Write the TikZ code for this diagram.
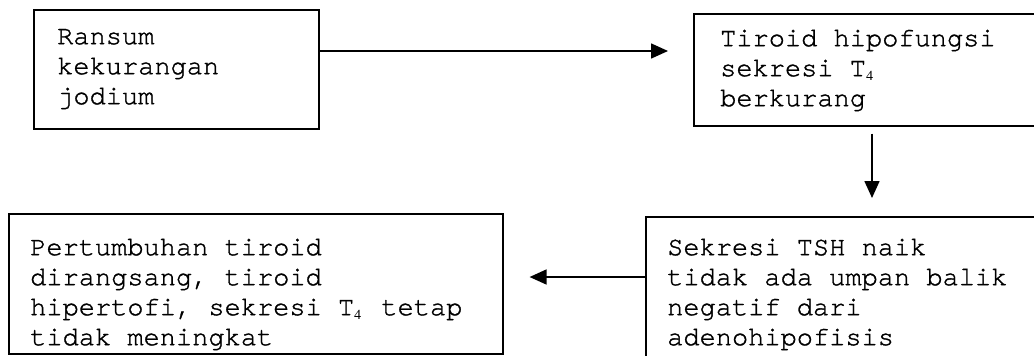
\documentclass[tikz,border=0pt]{standalone}
\usepackage{fontspec}
\setmonofont[Ligatures={NoCommon},FakeBold=1.2]{TeX Gyre Cursor}
\newfontfamily\subfont{Liberation Serif}
\usetikzlibrary{arrows.meta}
\newcommand{\sub}[1]{\raisebox{-4pt}{\subfont\fontsize{14}{14}\selectfont #1}}
\tikzset{
  box/.style={draw, line width=1.6pt, rectangle, inner sep=0pt, anchor=north west},
  txt/.style={inner sep=0pt, anchor=north west, align=left, font=\ttfamily\fontsize{27}{30}\selectfont},
  arr/.style={line width=1.6pt, -{Triangle[length=17pt,width=15pt]}}
}
\begin{document}
\begin{tikzpicture}[x=1pt,y=-1pt]
\useasboundingbox (0,0) rectangle (1034,356);
\clip (0,0) rectangle (1034,356);
\fill[white] (0,0) rectangle (1034,356);
% boxes
\node[box, minimum width=285pt, minimum height=119pt] (b1) at (33,9) {};
\node[box, minimum width=400pt, minimum height=112pt] (b2) at (693,13) {};
\node[box, minimum width=450pt, minimum height=200pt] (b3) at (645,216) {};
\node[box, minimum width=494pt, minimum height=140pt] (b4) at (8,213) {};
% texts
\node[txt] (t1) at (57,20) {\rule{0pt}{24pt}Ransum\\kekurangan\\jodium};
\node[txt] (t2) at (720,22) {\rule{0pt}{24pt}Tiroid hipofungsi\\sekresi T\sub{4}\\berkurang};
\node[txt] (t3) at (667,231) {\rule{0pt}{24pt}Sekresi TSH naik\\tidak ada umpan balik\\negatif dari\\adenohipofisis};
\node[txt] (t4) at (30,231) {\rule{0pt}{24pt}Pertumbuhan tiroid\\dirangsang, tiroid\\hipertofi, sekresi T\sub{4}\hspace{4pt} tetap\\tidak meningkat};
% connectors
\coordinate (a1) at ([yshift=-42pt]b1.north east);
\draw[arr, shorten >=25pt] (a1) -- (a1 -| b2.west);
\coordinate (a2) at ([xshift=179pt]b2.south west);
\draw[arr, shorten <=7pt, shorten >=18pt] (a2) -- (a2 |- b3.north);
\coordinate (a3) at ([yshift=-61pt]b3.north west);
\draw[arr, shorten >=26pt] (a3) -- (a3 -| b4.east);
\end{tikzpicture}
\end{document}
